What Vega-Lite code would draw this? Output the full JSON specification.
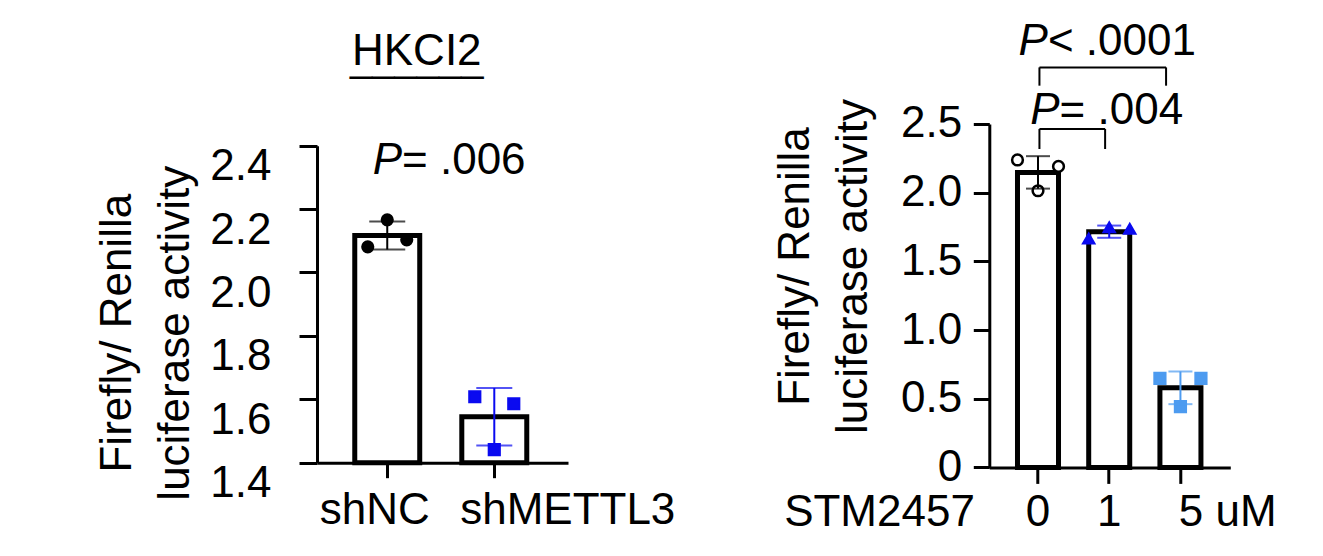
{
  "$schema": "https://vega.github.io/schema/vega-lite/v6.json",
  "background": "white",
  "padding": {"left": 95, "top": 20, "right": 5, "bottom": 5},
  "bounds": "flush",
  "spacing": 421.3,
  "resolve": {"scale": {"x": "independent", "y": "independent", "xOffset": "independent", "color": "independent", "fill": "independent", "stroke": "independent", "shape": "independent"}},
  "config": {
    "view": {"stroke": null},
    "font": "Liberation Sans",
    "axis": {"grid": false, "domainColor": "black", "tickColor": "black", "labelColor": "black", "titleColor": "black", "labelFont": "Liberation Sans", "titleFont": "Liberation Sans", "labelFontSize": 44, "titleFontSize": 44, "titleFontWeight": "normal", "domainWidth": 3, "tickWidth": 3, "labelOverlap": false, "labelFlush": false, "labelBound": false, "labelLimit": 500, "titleLimit": 1000}
  },
  "datasets": {
    "hkci2": [
      {"condition": "shNC", "replicate": 1, "activity": 2.081},
      {"condition": "shNC", "replicate": 2, "activity": 2.166},
      {"condition": "shNC", "replicate": 3, "activity": 2.103},
      {"condition": "shMETTL3", "replicate": 1, "activity": 1.608},
      {"condition": "shMETTL3", "replicate": 2, "activity": 1.441},
      {"condition": "shMETTL3", "replicate": 3, "activity": 1.586}
    ],
    "stm": [
      {"dose": "0", "replicate": 1, "activity": 2.238},
      {"dose": "0", "replicate": 2, "activity": 2.014},
      {"dose": "0", "replicate": 3, "activity": 2.191},
      {"dose": "1", "replicate": 1, "activity": 1.665},
      {"dose": "1", "replicate": 2, "activity": 1.747},
      {"dose": "1", "replicate": 3, "activity": 1.736},
      {"dose": "5", "replicate": 1, "activity": 0.648},
      {"dose": "5", "replicate": 2, "activity": 0.442},
      {"dose": "5", "replicate": 3, "activity": 0.648}
    ],
    "left_p": [
      {"from": "shNC", "to": "shMETTL3", "textY": 2.312, "op": "= .006"}
    ],
    "right_p": [
      {"from": "0", "to": "1", "bar": 2.464, "leg": 2.318, "textY": 2.5, "op": "= .004"},
      {"from": "0", "to": "5", "bar": 2.912, "leg": 2.779, "textY": 3.0, "op": "< .0001"}
    ]
  },
  "hconcat": [
    {
      "width": 251,
      "height": 343.4,
      "resolve": {"scale": {"xOffset": "independent"}},
      "title": {"text": "HKCI2", "subtitle": "______", "font": "Liberation Sans", "fontSize": 44, "fontWeight": "normal", "color": "black", "anchor": "middle", "frame": "group", "dx": -25.7, "baseline": "alphabetic", "offset": 10.3, "subtitleFont": "Liberation Sans", "subtitleFontSize": 40, "subtitleColor": "black", "subtitlePadding": -38.5},
      "layer": [
        {
          "data": {"name": "hkci2"},
          "mark": {"type": "bar", "fill": "white", "stroke": "black", "strokeWidth": 5},
          "encoding": {
            "x": {"field": "condition", "type": "nominal", "title": null,
              "scale": {"domain": ["shNC", "shMETTL3"], "paddingInner": 0.393, "paddingOuter": 0.369, "align": 0.478},
              "axis": {"labelAngle": 0, "tickSize": 15, "offset": -4.7, "labelBaseline": "alphabetic", "labelPadding": 46.3,
                "labelOffset": {"condition": {"test": "datum.value == 'shNC'", "value": -12.5}, "value": 73.5}}},
            "y": {"aggregate": "mean", "field": "activity", "type": "quantitative", "title": ["Firefly/ Renilla", "luciferase activity"],
              "scale": {"domain": [1.4, 2.4], "range": [338.7, 21.7], "zero": false, "nice": false},
              "axis": {"values": [1.4, 1.6, 1.8, 2.0, 2.2, 2.4], "format": ".1f", "tickSize": 18, "labelPadding": 28, "labelOffset": 21,
                "titleX": -186.7, "titleY": 208.7, "titleAlign": "center", "titleBaseline": "alphabetic", "titleLineHeight": 58, "titleAngle": -90}},
            "y2": {"datum": 1.4}
          }
        },
        {
          "data": {"name": "hkci2"},
          "mark": {"type": "point", "size": 125, "strokeWidth": 2, "opacity": 1, "filled": true},
          "encoding": {
            "x": {"field": "condition", "type": "nominal", "title": null},
            "xOffset": {"field": "replicate", "type": "nominal", "scale": {"paddingOuter": 0.667, "paddingInner": 0}},
            "y": {"field": "activity", "type": "quantitative", "title": ["Firefly/ Renilla", "luciferase activity"]},
            "shape": {"field": "condition", "type": "nominal", "scale": {"domain": ["shNC", "shMETTL3"], "range": ["circle", "square"]}, "legend": null},
            "fill": {"field": "condition", "type": "nominal", "scale": {"domain": ["shNC", "shMETTL3"], "range": ["black", "#0a0af0"]}, "legend": null},
            "stroke": {"field": "condition", "type": "nominal", "scale": {"domain": ["shNC", "shMETTL3"], "range": ["black", "#0a0af0"]}, "legend": null}
          }
        },
        {
          "data": {"name": "hkci2"},
          "mark": {"type": "errorbar", "extent": "stdev", "thickness": 2, "ticks": {"size": 36}},
          "encoding": {
            "x": {"field": "condition", "type": "nominal", "title": null},
            "y": {"field": "activity", "type": "quantitative", "title": ["Firefly/ Renilla", "luciferase activity"]},
            "color": {"field": "condition", "type": "nominal", "scale": {"domain": ["shNC", "shMETTL3"], "range": ["black", "#0a0af0"]}, "legend": null}
          }
        },
        {
          "data": {"name": "left_p"},
          "mark": {"type": "text", "text": "P", "font": "Liberation Sans", "fontSize": 44, "fontStyle": "italic", "align": "left", "baseline": "alphabetic", "dx": -14.5, "color": "black"},
          "encoding": {
            "x": {"field": "from", "type": "nominal", "title": null},
            "y": {"field": "textY", "type": "quantitative", "title": ["Firefly/ Renilla", "luciferase activity"]}
          }
        },
        {
          "data": {"name": "left_p"},
          "mark": {"type": "text", "font": "Liberation Sans", "fontSize": 44, "align": "left", "baseline": "alphabetic", "dx": 14.8, "color": "black"},
          "encoding": {
            "x": {"field": "from", "type": "nominal", "title": null},
            "y": {"field": "textY", "type": "quantitative", "title": ["Firefly/ Renilla", "luciferase activity"]},
            "text": {"field": "op"}
          }
        }
      ]
    },
    {
      "width": 241,
      "height": 343.4,
      "resolve": {"scale": {"xOffset": "independent"}},
      "layer": [
        {
          "data": {"name": "stm"},
          "mark": {"type": "bar", "fill": "white", "stroke": "black", "strokeWidth": 5},
          "encoding": {
            "x": {"field": "dose", "type": "nominal", "title": "STM2457",
              "scale": {"domain": ["0", "1", "5"], "paddingInner": 0.424, "paddingOuter": 0.404, "align": 0.49},
              "axis": {"labelAngle": 0, "tickSize": 16, "labelBaseline": "alphabetic", "labelPadding": 42.3,
                "labelExpr": "datum.value == '5' ? '5 uM' : datum.label",
                "labelAlign": {"condition": {"test": "datum.value == '5'", "value": "left"}, "value": "center"},
                "labelOffset": {"condition": {"test": "datum.value == '5'", "value": -1.7}, "value": 0},
                "titleX": -110.3, "titleY": 58.3, "titleAlign": "center", "titleBaseline": "alphabetic"}},
            "y": {"aggregate": "mean", "field": "activity", "type": "quantitative", "title": ["Firefly/ Renilla", "luciferase activity"],
              "scale": {"domain": [0, 2.5], "nice": false},
              "axis": {"values": [0, 0.5, 1, 1.5, 2, 2.5], "labelExpr": "datum.value == 0 ? '0' : format(datum.value, '.1f')", "tickSize": 16, "labelPadding": 11.6,
                "titleX": -180.3, "titleY": 142, "titleAlign": "center", "titleBaseline": "alphabetic", "titleLineHeight": 58, "titleAngle": -90}}
          }
        },
        {
          "data": {"name": "stm"},
          "mark": {"type": "point", "size": 115, "strokeWidth": 2.5, "opacity": 1, "filled": true},
          "encoding": {
            "x": {"field": "dose", "type": "nominal", "title": "STM2457"},
            "xOffset": {"field": "replicate", "type": "nominal", "scale": {"paddingOuter": -0.26, "paddingInner": 0}},
            "y": {"field": "activity", "type": "quantitative", "title": ["Firefly/ Renilla", "luciferase activity"]},
            "shape": {"field": "dose", "type": "nominal", "scale": {"domain": ["0", "1", "5"], "range": ["circle", "triangle-up", "square"]}, "legend": null},
            "fill": {"field": "dose", "type": "nominal", "scale": {"domain": ["0", "1", "5"], "range": ["white", "#0a0af0", "#4d9bf0"]}, "legend": null},
            "stroke": {"field": "dose", "type": "nominal", "scale": {"domain": ["0", "1", "5"], "range": ["black", "#0a0af0", "#4d9bf0"]}, "legend": null}
          }
        },
        {
          "data": {"name": "stm"},
          "mark": {"type": "errorbar", "extent": "stdev", "thickness": 2, "ticks": {"size": 24}},
          "encoding": {
            "x": {"field": "dose", "type": "nominal", "title": "STM2457"},
            "y": {"field": "activity", "type": "quantitative", "title": ["Firefly/ Renilla", "luciferase activity"]},
            "color": {"field": "dose", "type": "nominal", "scale": {"domain": ["0", "1", "5"], "range": ["black", "#0a0af0", "#4d9bf0"]}, "legend": null}
          }
        },
        {
          "data": {"name": "right_p"},
          "transform": [{"filter": "datum.to == '1'"}],
          "mark": {"type": "rule", "color": "black", "strokeWidth": 2},
          "encoding": {
            "x": {"field": "from", "type": "nominal", "bandPosition": 0.535, "title": "STM2457"},
            "x2": {"field": "to", "bandPosition": 0.4},
            "y": {"field": "bar", "type": "quantitative", "title": ["Firefly/ Renilla", "luciferase activity"]}
          }
        },
        {
          "data": {"name": "right_p"},
          "transform": [{"filter": "datum.to == '5'"}],
          "mark": {"type": "rule", "color": "black", "strokeWidth": 2},
          "encoding": {
            "x": {"field": "from", "type": "nominal", "bandPosition": 0.535, "title": "STM2457"},
            "x2": {"field": "to", "bandPosition": 0.15},
            "y": {"field": "bar", "type": "quantitative", "title": ["Firefly/ Renilla", "luciferase activity"]}
          }
        },
        {
          "data": {"name": "right_p"},
          "mark": {"type": "rule", "color": "black", "strokeWidth": 2},
          "encoding": {
            "x": {"field": "from", "type": "nominal", "bandPosition": 0.535, "title": "STM2457"},
            "y": {"field": "bar", "type": "quantitative", "title": ["Firefly/ Renilla", "luciferase activity"]},
            "y2": {"field": "leg"}
          }
        },
        {
          "data": {"name": "right_p"},
          "transform": [{"filter": "datum.to == '1'"}],
          "mark": {"type": "rule", "color": "black", "strokeWidth": 2},
          "encoding": {
            "x": {"field": "to", "type": "nominal", "bandPosition": 0.4, "title": "STM2457"},
            "y": {"field": "bar", "type": "quantitative", "title": ["Firefly/ Renilla", "luciferase activity"]},
            "y2": {"field": "leg"}
          }
        },
        {
          "data": {"name": "right_p"},
          "transform": [{"filter": "datum.to == '5'"}],
          "mark": {"type": "rule", "color": "black", "strokeWidth": 2},
          "encoding": {
            "x": {"field": "to", "type": "nominal", "bandPosition": 0.15, "title": "STM2457"},
            "y": {"field": "bar", "type": "quantitative", "title": ["Firefly/ Renilla", "luciferase activity"]},
            "y2": {"field": "leg"}
          }
        },
        {
          "data": {"name": "right_p"},
          "transform": [{"filter": "datum.to == '1'"}],
          "mark": {"type": "text", "text": "P", "font": "Liberation Sans", "fontSize": 44, "fontStyle": "italic", "align": "left", "baseline": "alphabetic", "dx": -7.7, "color": "black"},
          "encoding": {
            "x": {"field": "from", "type": "nominal", "title": "STM2457"},
            "y": {"field": "textY", "type": "quantitative", "title": ["Firefly/ Renilla", "luciferase activity"]}
          }
        },
        {
          "data": {"name": "right_p"},
          "transform": [{"filter": "datum.to == '1'"}],
          "mark": {"type": "text", "font": "Liberation Sans", "fontSize": 44, "align": "left", "baseline": "alphabetic", "dx": 21.6, "color": "black"},
          "encoding": {
            "x": {"field": "from", "type": "nominal", "title": "STM2457"},
            "y": {"field": "textY", "type": "quantitative", "title": ["Firefly/ Renilla", "luciferase activity"]},
            "text": {"field": "op"}
          }
        },
        {
          "data": {"name": "right_p"},
          "transform": [{"filter": "datum.to == '5'"}],
          "mark": {"type": "text", "text": "P", "font": "Liberation Sans", "fontSize": 44, "fontStyle": "italic", "align": "left", "baseline": "alphabetic", "dx": -19.4, "color": "black"},
          "encoding": {
            "x": {"field": "from", "type": "nominal", "title": "STM2457"},
            "y": {"field": "textY", "type": "quantitative", "title": ["Firefly/ Renilla", "luciferase activity"]}
          }
        },
        {
          "data": {"name": "right_p"},
          "transform": [{"filter": "datum.to == '5'"}],
          "mark": {"type": "text", "font": "Liberation Sans", "fontSize": 44, "align": "left", "baseline": "alphabetic", "dx": 9.9, "color": "black"},
          "encoding": {
            "x": {"field": "from", "type": "nominal", "title": "STM2457"},
            "y": {"field": "textY", "type": "quantitative", "title": ["Firefly/ Renilla", "luciferase activity"]},
            "text": {"field": "op"}
          }
        }
      ]
    }
  ]
}
